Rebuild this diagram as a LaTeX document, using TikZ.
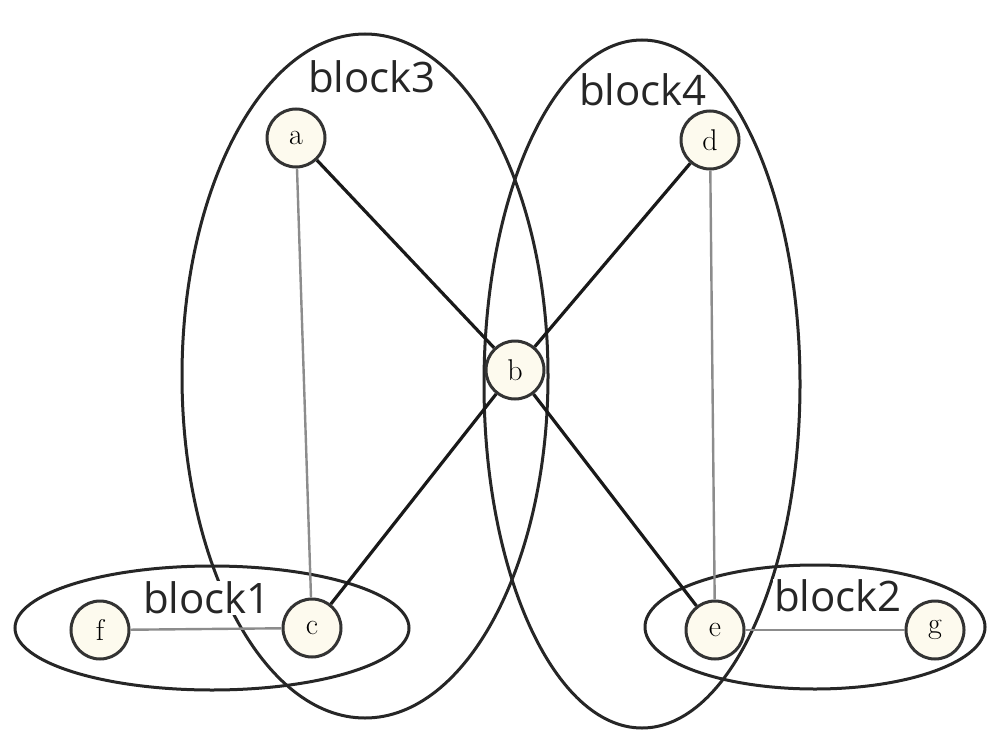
\documentclass[tikz,border=0pt]{standalone}
\usepackage{fontspec}
\newfontfamily\labfont{Open Sans}
\begin{document}
\begin{tikzpicture}[x=1pt,y=-1pt,
  vtx/.style={circle,draw=black!80,line width=3pt,fill={rgb,255:red,253;green,250;blue,238},minimum size=58pt,inner sep=0pt,font=\fontsize{30}{30}\selectfont},
  blk/.style={draw=black!85,line width=3pt},
  dark/.style={draw=black!90,line width=3.2pt},
  light/.style={draw=black!45,line width=2.4pt},
  lab/.style={fill=white,inner sep=1pt,font=\labfont\fontsize{42}{42}\selectfont,text=black!85}]
\useasboundingbox (0,0) rectangle (987,733);
% block ellipses
\draw[blk] (365,376) ellipse [x radius=183, y radius=342];
\draw[blk] (642,384) ellipse [x radius=158, y radius=344];
\draw[blk] (212,628) ellipse [x radius=197, y radius=62];
\draw[blk] (815,627) ellipse [x radius=170, y radius=62];
% vertices
\node[vtx] (a) at (296,138) {a};
\node[vtx] (b) at (515,370) {b};
\node[vtx] (c) at (312,628) {c};
\node[vtx] (d) at (710,140) {d};
\node[vtx] (e) at (715,630) {e};
\node[vtx] (f) at (100,630) {f};
\node[vtx] (g) at (935,630) {g};
% edges
\draw[light] (a) -- (c);
\draw[light] (d) -- (e);
\draw[light] (f) -- (c);
\draw[light] (e) -- (g);
\draw[dark] (a) -- (b);
\draw[dark] (d) -- (b);
\draw[dark] (b) -- (c);
\draw[dark] (b) -- (e);
% labels
\node[lab,fill=none] (l3) at (372,77) {block3};
\node[lab] (l4) at (643,90) {block4};
\node[lab] (l1) at (207,598) {block1};
\node[lab] (l2) at (838,596) {block2};
\end{tikzpicture}
\end{document}
